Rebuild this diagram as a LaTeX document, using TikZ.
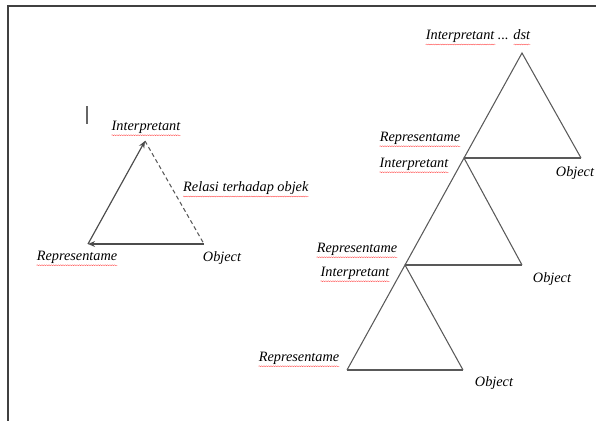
\documentclass[tikz,border=0pt]{standalone}
\usepackage{fontspec}
\setmainfont{Liberation Serif}
\usetikzlibrary{arrows.meta,decorations.pathmorphing}

\begin{document}
\begin{tikzpicture}[x=0.03cm,y=-0.03cm,
  lbl/.style={font=\fontsize{12.2}{14}\selectfont\itshape,inner sep=0pt,text=black},
  side/.style={draw=black!65,line width=0.9pt},
  base/.style={draw=black!65,line width=1.4pt},
  flow/.style={-{Stealth[length=6pt,width=5pt]},draw=black!70,line width=1pt},
  typo/.style={draw=red!75,line width=0.3pt,decorate,
    decoration={snake,amplitude=0.4pt,segment length=2pt}}
]
  \useasboundingbox (0,0) rectangle (596,421);

  % Page edge and cursor
  \draw[black!75,line width=1.2pt] (596,6) -- (8,6) -- (8,421);
  \draw[black!60,line width=2pt] (87,106) -- (87,124);

  % Left: one sign
  \coordinate (li) at (145,141);
  \coordinate (lr) at (88,244);
  \coordinate (lo) at (204,244);
  \draw[flow] (lo) -- (lr);
  \draw[flow] (lr) -- (li);
  \draw[side,dash pattern=on 3.5pt off 2.5pt] (li) -- (lo);

  \node[lbl] (lint) at (146,127) {Interpretant};
  \node[lbl,anchor=west] (lrel) at (183,188) {Relasi terhadap objek};
  \node[lbl] (lrep) at (77,257) {Representame};
  \node[lbl] (lobj) at (222,258) {Object};

  % Right: chain of signs
  \coordinate (t1) at (522,53);
  \coordinate (r1) at (464,158);
  \coordinate (o1) at (581,158);
  \coordinate (r2) at (405,265);
  \coordinate (o2) at (522,265);
  \coordinate (r3) at (347,370);
  \coordinate (o3) at (463,370);
  \draw[side] (r1) -- (t1) -- (o1);
  \draw[side] (r2) -- (r1) -- (o2);
  \draw[side] (r3) -- (r2) -- (o3);
  \foreach \i in {1,2,3}
    \draw[base] (r\i) -- (o\i);

  \node[lbl] (int1) at (478,36) {Interpretant ... dst};
  \node[lbl] (rep1) at (420,138) {Representame};
  \node[lbl] (obj1) at (575,173) {Object};
  \node[lbl] (int2) at (414,164) {Interpretant};
  \node[lbl] (rep2) at (357,249) {Representame};
  \node[lbl] (obj2) at (552,279) {Object};
  \node[lbl] (int3) at (355,273) {Interpretant};
  \node[lbl] (rep3) at (299,358) {Representame};
  \node[lbl] (obj3) at (494,383) {Object};

  % Spelling marks
  \foreach \n in {lint,lrel,lrep,rep1,int2,rep2,int3,rep3}
    \draw[typo] ([yshift=-1.5pt]\n.south west) -- ([yshift=-1.5pt]\n.south east);
  \draw[typo] ([yshift=-1.5pt]int1.south west) -- ([yshift=-1.5pt,xshift=-1.05cm]int1.south east);
  \draw[typo] ([yshift=-1.5pt,xshift=-0.5cm]int1.south east) -- ([yshift=-1.5pt]int1.south east);
\end{tikzpicture}
\end{document}
